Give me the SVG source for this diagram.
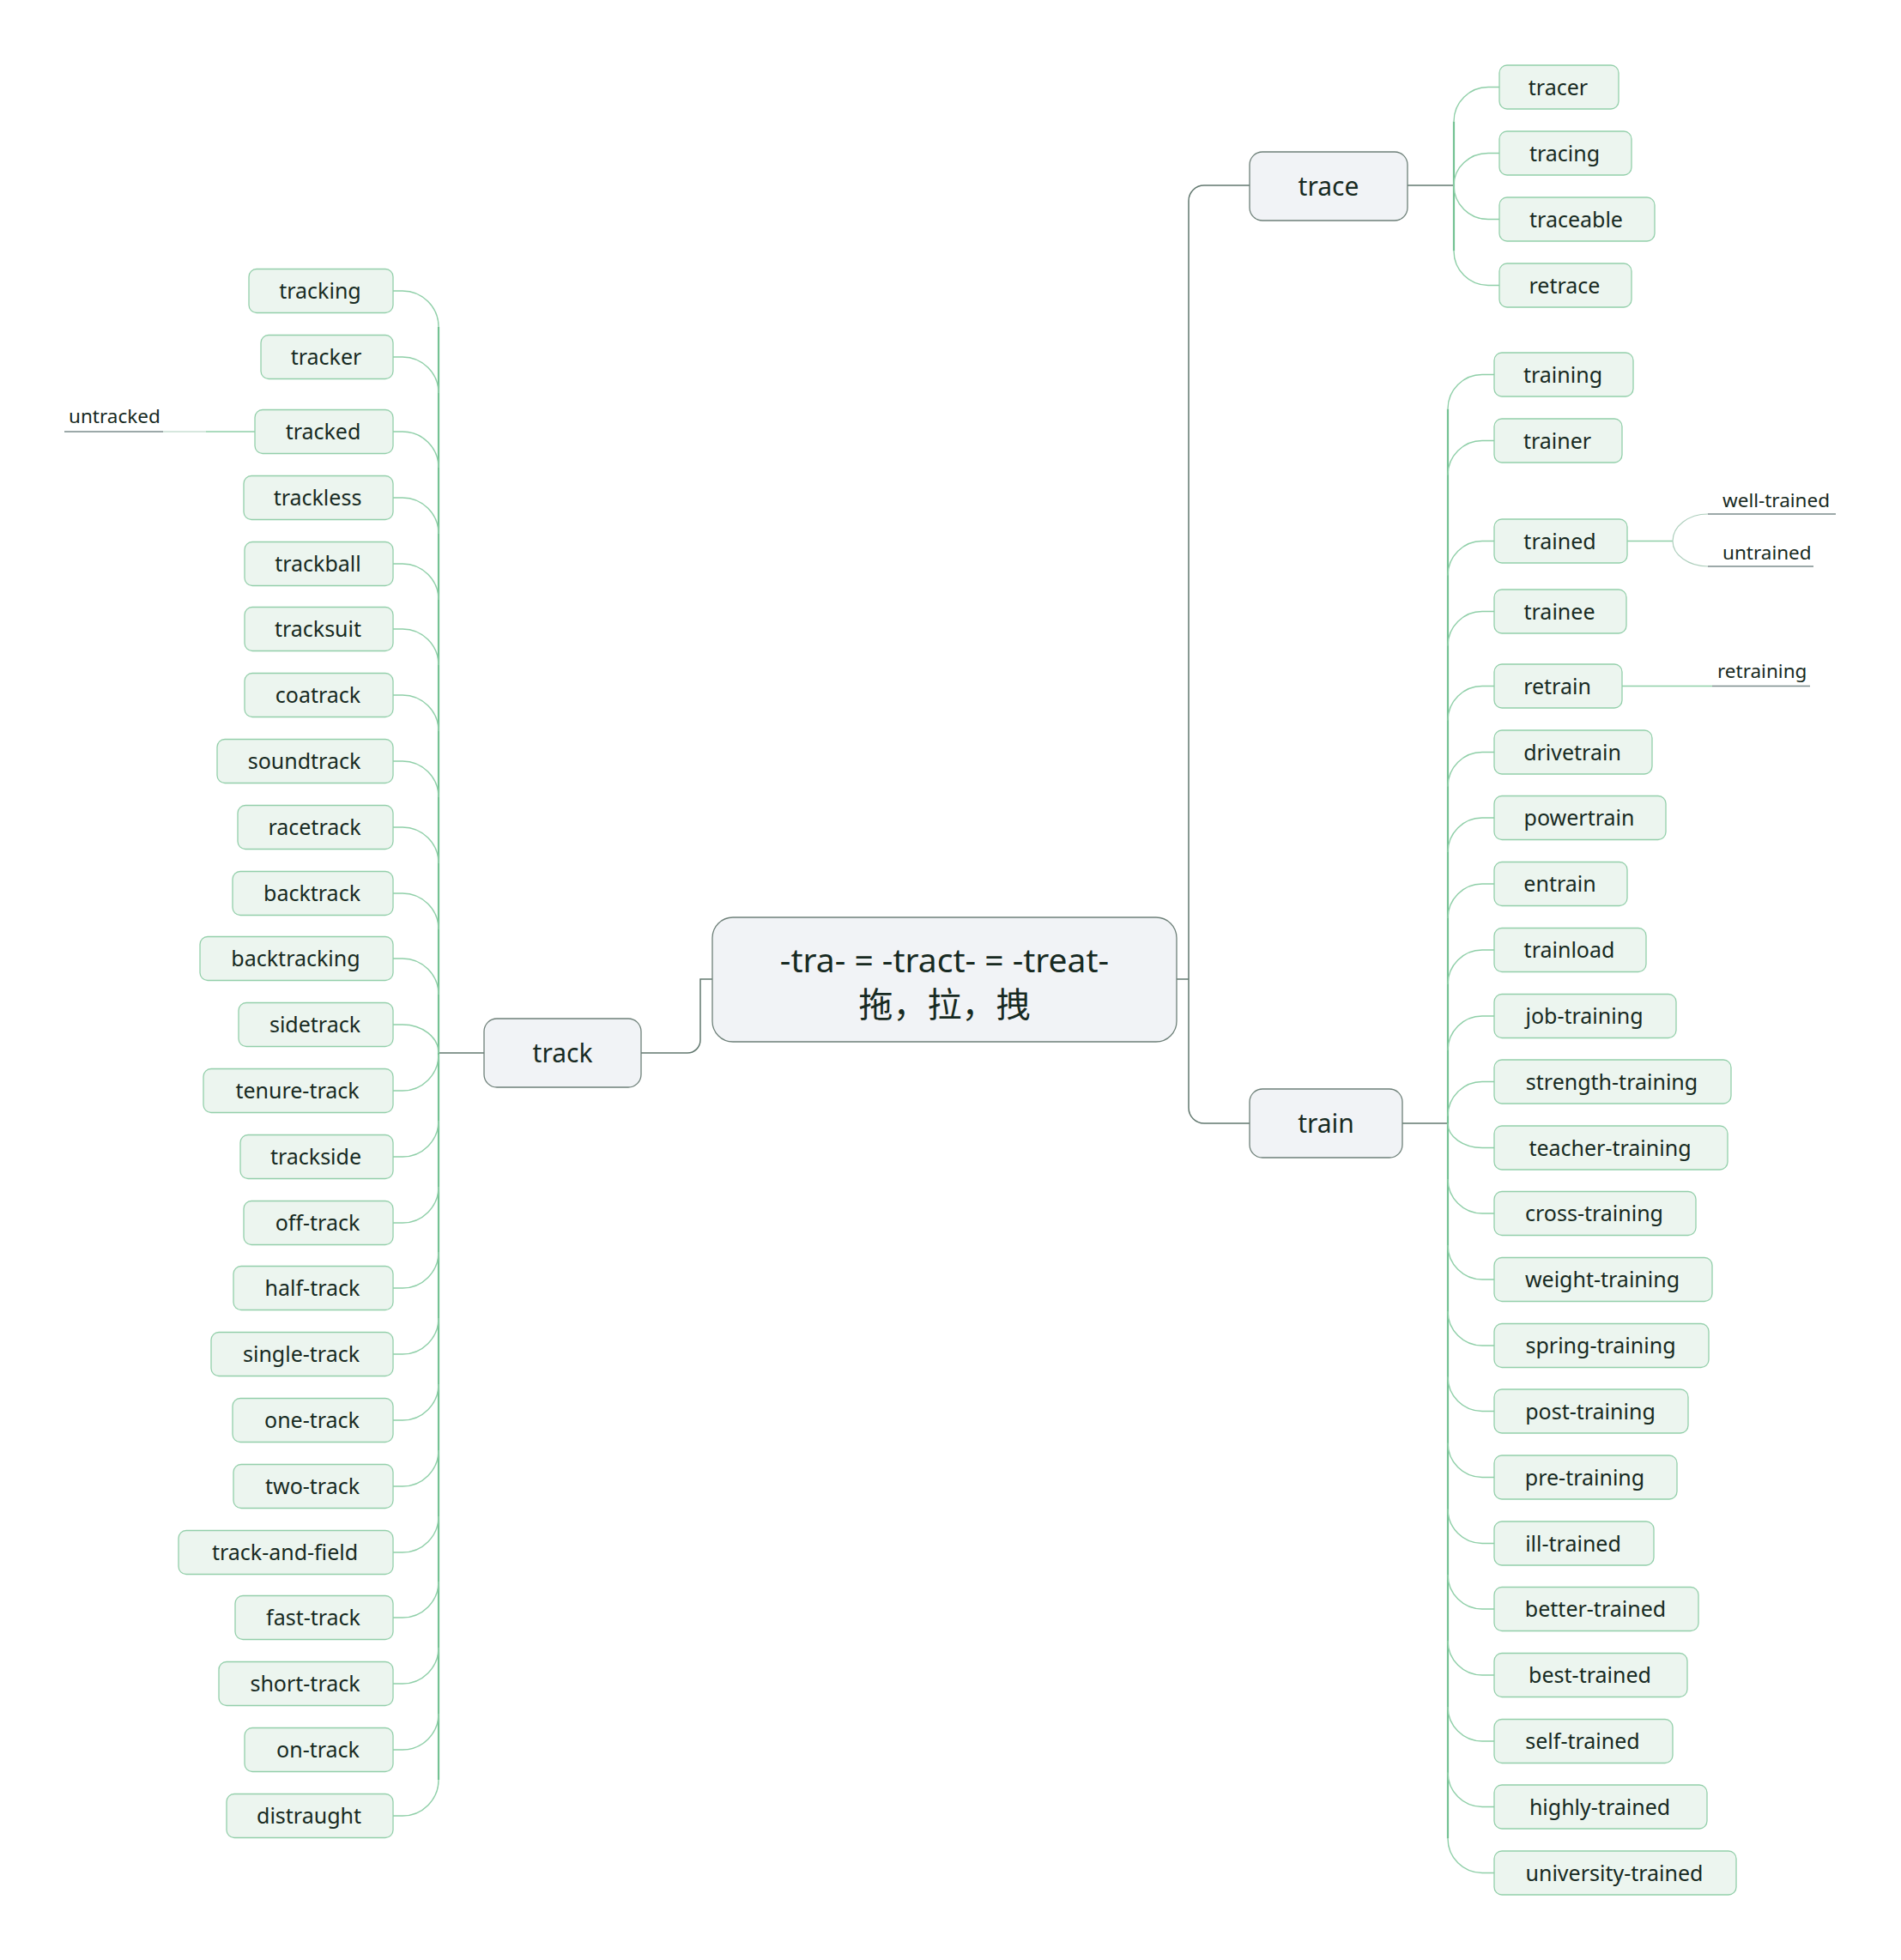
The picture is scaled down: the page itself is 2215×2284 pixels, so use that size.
<svg xmlns="http://www.w3.org/2000/svg" width="2215" height="2284" viewBox="0 0 2215 2284">
  <style>
    text { font-family: "Noto Sans", "Noto Sans CJK SC", sans-serif; fill: #172a22; }
    .root rect, .topic rect { fill: #f1f3f6; stroke: #6e8079; stroke-width: 1.3; }
    .root text { font-size: 39px; text-anchor: middle; }
    .root text.cjk { font-size: 40px; }
    .topic text { font-size: 30px; text-anchor: middle; }
    .leaf rect { fill: #ecf5ef; stroke: #93cfaa; stroke-width: 1.3; }
    .leaf text { font-size: 25px; text-anchor: middle; }
    .sub text { font-size: 22.5px; }
    .main { fill: none; stroke: #62786f; stroke-width: 1.5; }
    .arc { fill: none; stroke: #8fcfa8; stroke-width: 1.4; }
    .spine { fill: none; stroke: #74c293; stroke-width: 2.2; }
    .soft { fill: none; stroke: #aecfbd; stroke-width: 1.2; }
    .under { fill: none; stroke: #7b8d8c; stroke-width: 1.3; }
  </style>

  <!-- connectors -->
  <g id="connectors">
    <!-- root to topics -->
    <path class="main" d="M1371 1141 H1385"/>
    <path class="main" d="M1456 216 H1403 A18 18 0 0 0 1385 234 V1291 A18 18 0 0 0 1403 1309 H1456"/>
    <path class="main" d="M830 1141 H816 V1212 A15 15 0 0 1 801 1227 H747"/>

    <!-- track branch -->
    <path class="main" d="M564 1227 H511"/>
    <path class="spine" d="M511 381 V2074"/>
    <path class="arc" d="M458 339 H469 A42 42 0 0 1 511 381"/>
    <path class="arc" d="M458 416 H469 A42 42 0 0 1 511 458"/>
    <path class="arc" d="M458 503 H469 A42 42 0 0 1 511 545"/>
    <path class="arc" d="M458 580 H469 A42 42 0 0 1 511 622"/>
    <path class="arc" d="M458 657 H469 A42 42 0 0 1 511 699"/>
    <path class="arc" d="M458 733 H469 A42 42 0 0 1 511 775"/>
    <path class="arc" d="M458 810 H469 A42 42 0 0 1 511 852"/>
    <path class="arc" d="M458 887 H469 A42 42 0 0 1 511 929"/>
    <path class="arc" d="M458 964 H469 A42 42 0 0 1 511 1006"/>
    <path class="arc" d="M458 1041 H469 A42 42 0 0 1 511 1083"/>
    <path class="arc" d="M458 1117 H469 A42 42 0 0 1 511 1159"/>
    <path class="arc" d="M458 1194 H469 A42 33 0 0 1 511 1227"/>
    <path class="arc" d="M458 1271 H469 A42 42 0 0 0 511 1229"/>
    <path class="arc" d="M458 1348 H469 A42 42 0 0 0 511 1306"/>
    <path class="arc" d="M458 1425 H469 A42 42 0 0 0 511 1383"/>
    <path class="arc" d="M458 1501 H469 A42 42 0 0 0 511 1459"/>
    <path class="arc" d="M458 1578 H469 A42 42 0 0 0 511 1536"/>
    <path class="arc" d="M458 1655 H469 A42 42 0 0 0 511 1613"/>
    <path class="arc" d="M458 1732 H469 A42 42 0 0 0 511 1690"/>
    <path class="arc" d="M458 1809 H469 A42 42 0 0 0 511 1767"/>
    <path class="arc" d="M458 1885 H469 A42 42 0 0 0 511 1843"/>
    <path class="arc" d="M458 1962 H469 A42 42 0 0 0 511 1920"/>
    <path class="arc" d="M458 2039 H469 A42 42 0 0 0 511 1997"/>
    <path class="arc" d="M458 2116 H469 A42 42 0 0 0 511 2074"/>
    <!-- tracked -> untracked -->
    <path class="arc" d="M297 503 H240"/>
    <path class="soft" d="M240 503 H190"/>
    <path class="under" d="M190 503 H75"/>

    <!-- trace branch -->
    <path class="main" d="M1640 216 H1694"/>
    <path class="spine" d="M1694 141.5 V292.5"/>
    <path class="arc" d="M1747 101.5 H1734 A40 40 0 0 0 1694 141.5"/>
    <path class="arc" d="M1747 178.5 H1734 A40 37.5 0 0 0 1694 216"/>
    <path class="arc" d="M1747 255.5 H1734 A40 39.5 0 0 1 1694 216"/>
    <path class="arc" d="M1747 332.5 H1734 A40 40 0 0 1 1694 292.5"/>

    <!-- train branch -->
    <path class="main" d="M1634 1309 H1687"/>
    <path class="spine" d="M1687 476.5 V2142.5"/>
    <path class="arc" d="M1741 436.5 H1727 A40 40 0 0 0 1687 476.5"/>
    <path class="arc" d="M1741 513.5 H1727 A40 40 0 0 0 1687 553.5"/>
    <path class="arc" d="M1741 630.5 H1727 A40 40 0 0 0 1687 670.5"/>
    <path class="arc" d="M1741 712.5 H1727 A40 40 0 0 0 1687 752.5"/>
    <path class="arc" d="M1741 799.5 H1727 A40 40 0 0 0 1687 839.5"/>
    <path class="arc" d="M1741 876.5 H1727 A40 40 0 0 0 1687 916.5"/>
    <path class="arc" d="M1741 953 H1727 A40 40 0 0 0 1687 993"/>
    <path class="arc" d="M1741 1030 H1727 A40 40 0 0 0 1687 1070"/>
    <path class="arc" d="M1741 1107 H1727 A40 40 0 0 0 1687 1147"/>
    <path class="arc" d="M1741 1184 H1727 A40 40 0 0 0 1687 1224"/>
    <path class="arc" d="M1741 1260.5 H1727 A40 40 0 0 0 1687 1300.5"/>
    <path class="arc" d="M1741 1337.5 H1727 A40 28.5 0 0 1 1687 1309"/>
    <path class="arc" d="M1741 1414 H1727 A40 40 0 0 1 1687 1374"/>
    <path class="arc" d="M1741 1491 H1727 A40 40 0 0 1 1687 1451"/>
    <path class="arc" d="M1741 1568 H1727 A40 40 0 0 1 1687 1528"/>
    <path class="arc" d="M1741 1644.5 H1727 A40 40 0 0 1 1687 1604.5"/>
    <path class="arc" d="M1741 1721.5 H1727 A40 40 0 0 1 1687 1681.5"/>
    <path class="arc" d="M1741 1798.5 H1727 A40 40 0 0 1 1687 1758.5"/>
    <path class="arc" d="M1741 1875 H1727 A40 40 0 0 1 1687 1835"/>
    <path class="arc" d="M1741 1952 H1727 A40 40 0 0 1 1687 1912"/>
    <path class="arc" d="M1741 2029 H1727 A40 40 0 0 1 1687 1989"/>
    <path class="arc" d="M1741 2105.5 H1727 A40 40 0 0 1 1687 2065.5"/>
    <path class="arc" d="M1741 2182.5 H1727 A40 40 0 0 1 1687 2142.5"/>
    <!-- trained -> well-trained / untrained -->
    <path class="arc" d="M1896 630.5 H1949"/>
    <path class="soft" d="M1990 599 A41 31.5 0 0 0 1949 630.5 A41 29.5 0 0 0 1990 660"/>
    <path class="under" d="M1990 599 H2139"/>
    <path class="under" d="M1990 660 H2113"/>
    <!-- retrain -> retraining -->
    <path class="arc" d="M1890 799.5 H1995"/>
    <path class="under" d="M1995 799.5 H2109"/>
  </g>

  <!-- root -->
  <g id="n-root" class="root">
    <rect x="830" y="1069" width="541" height="145" rx="24"/>
    <text x="1100.5" y="1133">-tra- = -tract- = -treat-</text>
    <text class="cjk" x="1100.5" y="1185">拖，拉，拽</text>
  </g>

  <!-- main topics -->
  <g id="n-trace" class="topic"><rect x="1456" y="177" width="184" height="80" rx="15"/><text x="1548" y="228">trace</text></g>
  <g id="n-train" class="topic"><rect x="1456" y="1269" width="178" height="80" rx="15"/><text x="1545" y="1320">train</text></g>
  <g id="n-track" class="topic"><rect x="564" y="1187" width="183" height="80" rx="15"/><text x="655.5" y="1238">track</text></g>

  <!-- track children -->
  <g id="n-tracking" class="leaf"><rect x="290" y="313.5" width="168" height="51" rx="9"/><text x="373" y="348">tracking</text></g>
  <g id="n-tracker" class="leaf"><rect x="304" y="390.5" width="154" height="51" rx="9"/><text x="380" y="425">tracker</text></g>
  <g id="n-tracked" class="leaf"><rect x="297" y="477.5" width="161" height="51" rx="9"/><text x="376.5" y="512">tracked</text></g>
  <g id="n-trackless" class="leaf"><rect x="284" y="554.5" width="174" height="51" rx="9"/><text x="370" y="589">trackless</text></g>
  <g id="n-trackball" class="leaf"><rect x="285" y="631.5" width="173" height="51" rx="9"/><text x="370.5" y="666">trackball</text></g>
  <g id="n-tracksuit" class="leaf"><rect x="285" y="707.5" width="173" height="51" rx="9"/><text x="370.5" y="742">tracksuit</text></g>
  <g id="n-coatrack" class="leaf"><rect x="285" y="784.5" width="173" height="51" rx="9"/><text x="370.5" y="819">coatrack</text></g>
  <g id="n-soundtrack" class="leaf"><rect x="253" y="861.5" width="205" height="51" rx="9"/><text x="354.5" y="896">soundtrack</text></g>
  <g id="n-racetrack" class="leaf"><rect x="277" y="938.5" width="181" height="51" rx="9"/><text x="366.5" y="973">racetrack</text></g>
  <g id="n-backtrack" class="leaf"><rect x="271" y="1015.5" width="187" height="51" rx="9"/><text x="363.5" y="1050">backtrack</text></g>
  <g id="n-backtracking" class="leaf"><rect x="233" y="1091.5" width="225" height="51" rx="9"/><text x="344.5" y="1126">backtracking</text></g>
  <g id="n-sidetrack" class="leaf"><rect x="278" y="1168.5" width="180" height="51" rx="9"/><text x="367" y="1203">sidetrack</text></g>
  <g id="n-tenure-track" class="leaf"><rect x="237" y="1245.5" width="221" height="51" rx="9"/><text x="346.5" y="1280">tenure-track</text></g>
  <g id="n-trackside" class="leaf"><rect x="280" y="1322.5" width="178" height="51" rx="9"/><text x="368" y="1357">trackside</text></g>
  <g id="n-off-track" class="leaf"><rect x="284" y="1399.5" width="174" height="51" rx="9"/><text x="370" y="1434">off-track</text></g>
  <g id="n-half-track" class="leaf"><rect x="272" y="1475.5" width="186" height="51" rx="9"/><text x="364" y="1510">half-track</text></g>
  <g id="n-single-track" class="leaf"><rect x="246" y="1552.5" width="212" height="51" rx="9"/><text x="351" y="1587">single-track</text></g>
  <g id="n-one-track" class="leaf"><rect x="271" y="1629.5" width="187" height="51" rx="9"/><text x="363.5" y="1664">one-track</text></g>
  <g id="n-two-track" class="leaf"><rect x="272" y="1706.5" width="186" height="51" rx="9"/><text x="364" y="1741">two-track</text></g>
  <g id="n-track-and-field" class="leaf"><rect x="208" y="1783.5" width="250" height="51" rx="9"/><text x="332" y="1818">track-and-field</text></g>
  <g id="n-fast-track" class="leaf"><rect x="274" y="1859.5" width="184" height="51" rx="9"/><text x="365" y="1894">fast-track</text></g>
  <g id="n-short-track" class="leaf"><rect x="255" y="1936.5" width="203" height="51" rx="9"/><text x="355.5" y="1971">short-track</text></g>
  <g id="n-on-track" class="leaf"><rect x="285" y="2013.5" width="173" height="51" rx="9"/><text x="370.5" y="2048">on-track</text></g>
  <g id="n-distraught" class="leaf"><rect x="264" y="2090.5" width="194" height="51" rx="9"/><text x="360" y="2125">distraught</text></g>
  <g id="n-untracked" class="sub"><text x="80" y="493">untracked</text></g>

  <!-- trace children -->
  <g id="n-tracer" class="leaf"><rect x="1747" y="76" width="139" height="51" rx="9"/><text x="1815.5" y="110.5">tracer</text></g>
  <g id="n-tracing" class="leaf"><rect x="1747" y="153" width="154" height="51" rx="9"/><text x="1823" y="187.5">tracing</text></g>
  <g id="n-traceable" class="leaf"><rect x="1747" y="230" width="181" height="51" rx="9"/><text x="1836.5" y="264.5">traceable</text></g>
  <g id="n-retrace" class="leaf"><rect x="1747" y="307" width="154" height="51" rx="9"/><text x="1823" y="341.5">retrace</text></g>

  <!-- train children -->
  <g id="n-training" class="leaf"><rect x="1741" y="411" width="162" height="51" rx="9"/><text x="1821" y="445.5">training</text></g>
  <g id="n-trainer" class="leaf"><rect x="1741" y="488" width="149" height="51" rx="9"/><text x="1814.5" y="522.5">trainer</text></g>
  <g id="n-trained" class="leaf"><rect x="1741" y="605" width="155" height="51" rx="9"/><text x="1817.5" y="639.5">trained</text></g>
  <g id="n-trainee" class="leaf"><rect x="1741" y="687" width="154" height="51" rx="9"/><text x="1817" y="721.5">trainee</text></g>
  <g id="n-retrain" class="leaf"><rect x="1741" y="774" width="149" height="51" rx="9"/><text x="1814.5" y="808.5">retrain</text></g>
  <g id="n-drivetrain" class="leaf"><rect x="1741" y="851" width="184" height="51" rx="9"/><text x="1832" y="885.5">drivetrain</text></g>
  <g id="n-powertrain" class="leaf"><rect x="1741" y="927.5" width="200" height="51" rx="9"/><text x="1840" y="962">powertrain</text></g>
  <g id="n-entrain" class="leaf"><rect x="1741" y="1004.5" width="155" height="51" rx="9"/><text x="1817.5" y="1039">entrain</text></g>
  <g id="n-trainload" class="leaf"><rect x="1741" y="1081.5" width="177" height="51" rx="9"/><text x="1828.5" y="1116">trainload</text></g>
  <g id="n-job-training" class="leaf"><rect x="1741" y="1158.5" width="212" height="51" rx="9"/><text x="1846" y="1193">job-training</text></g>
  <g id="n-strength-training" class="leaf"><rect x="1741" y="1235" width="276" height="51" rx="9"/><text x="1878" y="1269.5">strength-training</text></g>
  <g id="n-teacher-training" class="leaf"><rect x="1741" y="1312" width="272" height="51" rx="9"/><text x="1876" y="1346.5">teacher-training</text></g>
  <g id="n-cross-training" class="leaf"><rect x="1741" y="1388.5" width="235" height="51" rx="9"/><text x="1857.5" y="1423">cross-training</text></g>
  <g id="n-weight-training" class="leaf"><rect x="1741" y="1465.5" width="254" height="51" rx="9"/><text x="1867" y="1500">weight-training</text></g>
  <g id="n-spring-training" class="leaf"><rect x="1741" y="1542.5" width="250" height="51" rx="9"/><text x="1865" y="1577">spring-training</text></g>
  <g id="n-post-training" class="leaf"><rect x="1741" y="1619" width="226" height="51" rx="9"/><text x="1853" y="1653.5">post-training</text></g>
  <g id="n-pre-training" class="leaf"><rect x="1741" y="1696" width="213" height="51" rx="9"/><text x="1846.5" y="1730.5">pre-training</text></g>
  <g id="n-ill-trained" class="leaf"><rect x="1741" y="1773" width="186" height="51" rx="9"/><text x="1833" y="1807.5">ill-trained</text></g>
  <g id="n-better-trained" class="leaf"><rect x="1741" y="1849.5" width="238" height="51" rx="9"/><text x="1859" y="1884">better-trained</text></g>
  <g id="n-best-trained" class="leaf"><rect x="1741" y="1926.5" width="225" height="51" rx="9"/><text x="1852.5" y="1961">best-trained</text></g>
  <g id="n-self-trained" class="leaf"><rect x="1741" y="2003.5" width="208" height="51" rx="9"/><text x="1844" y="2038">self-trained</text></g>
  <g id="n-highly-trained" class="leaf"><rect x="1741" y="2080" width="248" height="51" rx="9"/><text x="1864" y="2114.5">highly-trained</text></g>
  <g id="n-university-trained" class="leaf"><rect x="1741" y="2157" width="282" height="51" rx="9"/><text x="1881" y="2191.5">university-trained</text></g>
  <g id="n-well-trained" class="sub"><text x="2007" y="591">well-trained</text></g>
  <g id="n-untrained" class="sub"><text x="2007" y="652">untrained</text></g>
  <g id="n-retraining" class="sub"><text x="2001" y="790">retraining</text></g>
</svg>
